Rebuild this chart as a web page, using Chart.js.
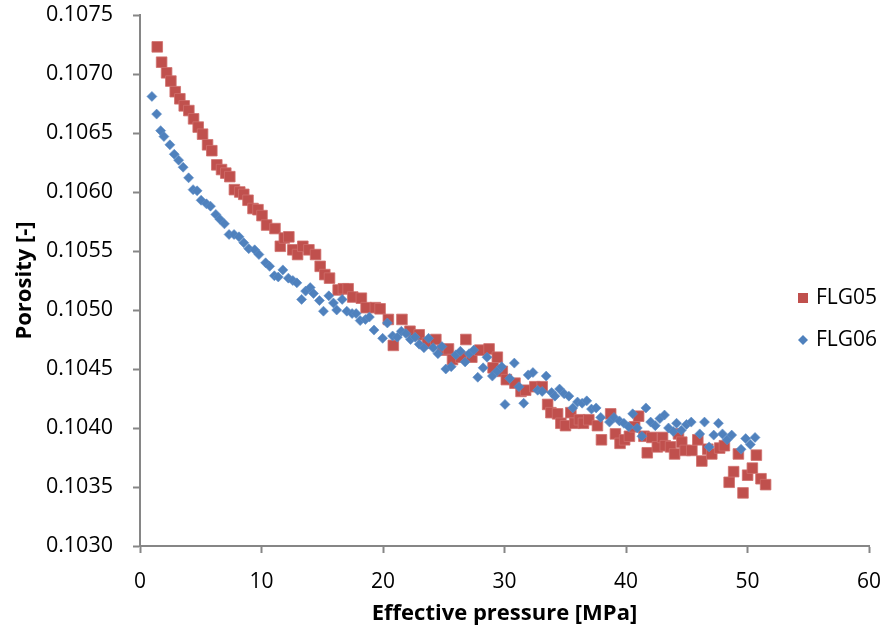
<!DOCTYPE html>
<html>
<head>
<meta charset="utf-8">
<title>Porosity vs effective pressure</title>
<script src="https://cdn.jsdelivr.net/npm/chart.js@4.4.1/dist/chart.umd.min.js"></script>
<style>
  body { margin: 0; background: #fff; }
  #chart { display: block; }
</style>
</head>
<body>
<canvas id="chart" width="886" height="637"></canvas>
<script>
// FLG05 - effective pressure [MPa] and porosity [-]
const pressureFLG05 = [1.42,1.78,2.19,2.54,2.90,3.28,3.64,4.02,4.41,4.79,5.15,5.56,5.91,6.32,6.71,7.06,7.39,7.77,8.21,8.54,8.89,9.30,9.71,10.04,10.42,11.11,11.55,11.88,12.25,12.58,12.97,13.40,13.90,14.45,14.83,15.21,15.60,16.31,16.74,17.13,17.51,18.22,18.61,19.37,19.76,20.44,20.85,21.56,22.22,22.98,23.66,24.35,24.90,25.39,25.72,26.41,26.82,27.31,27.97,28.73,29.06,29.41,29.82,30.15,30.86,31.36,31.74,32.50,33.10,33.55,33.82,34.37,34.64,35.02,35.46,35.79,36.17,36.50,36.94,37.65,37.98,38.74,39.13,39.51,39.89,40.28,40.71,41.04,41.48,41.75,42.13,42.58,43.01,43.23,43.67,44.00,44.32,44.59,44.87,45.42,45.91,46.24,46.73,47.06,47.71,48.10,48.49,48.86,49.25,49.63,50.01,50.40,50.73,51.11,51.49];
const porosityFLG05 = [0.10723,0.10710,0.10701,0.10694,0.10685,0.10679,0.10673,0.10669,0.10662,0.10655,0.10649,0.10640,0.10635,0.10623,0.10619,0.10616,0.10613,0.10602,0.10600,0.10598,0.10593,0.10586,0.10585,0.10580,0.10572,0.10569,0.10554,0.10561,0.10562,0.10551,0.10547,0.10554,0.10551,0.10547,0.10537,0.10530,0.10527,0.10517,0.10518,0.10518,0.10511,0.10510,0.10502,0.10502,0.10501,0.10492,0.10470,0.10492,0.10482,0.10479,0.10472,0.10475,0.10466,0.10467,0.10458,0.10460,0.10475,0.10460,0.10466,0.10467,0.10451,0.10460,0.10448,0.10441,0.10438,0.10431,0.10432,0.10435,0.10435,0.10420,0.10413,0.10412,0.10404,0.10402,0.10413,0.10404,0.10407,0.10404,0.10407,0.10402,0.10390,0.10412,0.10395,0.10387,0.10390,0.10393,0.10401,0.10410,0.10393,0.10379,0.10392,0.10384,0.10392,0.10385,0.10384,0.10378,0.10395,0.10388,0.10381,0.10381,0.10390,0.10372,0.10382,0.10378,0.10383,0.10385,0.10354,0.10363,0.10378,0.10345,0.10360,0.10366,0.10377,0.10357,0.10352];

// FLG06
const pressureFLG06 = [0.98,1.37,1.70,1.97,2.46,2.82,3.18,3.55,4.00,4.37,4.70,5.03,5.47,5.80,6.24,6.57,6.95,7.33,7.74,8.15,8.54,8.95,9.44,9.79,10.34,10.67,11.06,11.38,11.76,12.21,12.58,12.91,13.30,13.63,14.01,14.28,14.77,15.10,15.54,15.92,16.19,16.64,17.02,17.46,17.79,18.12,18.55,18.88,19.26,19.97,20.36,20.79,21.18,21.51,21.89,22.27,22.65,22.98,23.37,23.75,24.13,24.52,24.85,25.17,25.61,26.00,26.37,26.76,27.09,27.47,27.80,28.24,28.56,29.00,29.39,29.77,30.04,30.43,30.81,31.19,31.58,31.95,32.34,32.73,33.10,33.43,33.88,34.15,34.53,34.91,35.30,35.62,36.01,36.39,36.77,37.16,37.54,37.92,38.64,39.01,39.46,39.83,40.22,40.55,40.93,41.31,41.64,42.03,42.41,42.79,43.17,43.50,43.89,44.16,44.55,44.98,45.37,46.07,46.46,46.84,47.22,47.61,47.94,48.32,48.70,49.47,49.85,50.23,50.62];
const porosityFLG06 = [0.10681,0.10666,0.10652,0.10647,0.10640,0.10632,0.10627,0.10621,0.10612,0.10602,0.10601,0.10593,0.10590,0.10588,0.10581,0.10577,0.10573,0.10564,0.10564,0.10562,0.10557,0.10552,0.10551,0.10547,0.10540,0.10537,0.10529,0.10528,0.10534,0.10527,0.10525,0.10523,0.10509,0.10516,0.10519,0.10514,0.10508,0.10499,0.10512,0.10506,0.10500,0.10509,0.10499,0.10497,0.10497,0.10491,0.10492,0.10494,0.10483,0.10476,0.10489,0.10478,0.10477,0.10482,0.10480,0.10475,0.10477,0.10471,0.10468,0.10476,0.10468,0.10463,0.10469,0.10450,0.10452,0.10462,0.10465,0.10456,0.10463,0.10466,0.10443,0.10451,0.10460,0.10444,0.10448,0.10452,0.10420,0.10442,0.10455,0.10435,0.10421,0.10445,0.10447,0.10432,0.10431,0.10444,0.10430,0.10427,0.10433,0.10429,0.10427,0.10417,0.10422,0.10421,0.10423,0.10416,0.10417,0.10409,0.10405,0.10409,0.10406,0.10404,0.10401,0.10412,0.10400,0.10393,0.10417,0.10405,0.10402,0.10408,0.10411,0.10400,0.10397,0.10404,0.10398,0.10403,0.10405,0.10395,0.10405,0.10384,0.10394,0.10404,0.10395,0.10390,0.10394,0.10382,0.10391,0.10386,0.10392];

const seriesNames = ["FLG05", "FLG06"];
const xTicks = [0, 10, 20, 30, 40, 50, 60];
const yTicks = [0.1030, 0.1035, 0.1040, 0.1045, 0.1050, 0.1055, 0.1060, 0.1065, 0.1070, 0.1075];

const red = "#C0504D";
const blue = "#4F81BD";
const axisGrey = "#868686";
const fontName = "'Open Sans', 'Liberation Sans', sans-serif";

function toPoints(xs, ys) {
  return xs.map((x, i) => ({ x: x, y: ys[i] }));
}

// legend sits inside the plot on the right, like the Excel original
const sideLegend = {
  id: "sideLegend",
  afterDraw(chart) {
    const c = chart.ctx;
    const rows = [
      { y: 298, style: "rect", i: 0 },
      { y: 340, style: "rectRot", i: 1 }
    ];
    c.save();
    c.font = "21px " + fontName;
    c.textBaseline = "middle";
    c.fillStyle = "#000";
    rows.forEach(r => {
      const ds = chart.data.datasets[r.i];
      c.save();
      c.fillStyle = ds.backgroundColor;
      c.beginPath();
      if (r.style === "rect") {
        c.rect(798, r.y - 5, 10, 10);
      } else {
        c.moveTo(803, r.y - 5);
        c.lineTo(808, r.y);
        c.lineTo(803, r.y + 5);
        c.lineTo(798, r.y);
        c.closePath();
      }
      c.fill();
      c.restore();
      c.fillText(ds.label, 816, r.y);
    });
    c.restore();
  }
};

const ctx = document.getElementById("chart");

let mainChart = new Chart(ctx, {
  type: "scatter",
  data: {
    datasets: [
      {
        label: seriesNames[0],
        data: toPoints(pressureFLG05, porosityFLG05),
        pointStyle: "rect",
        pointRadius: 7.5,
        backgroundColor: red,
        borderColor: "#CF6F6C",
        borderWidth: 0.8,
        order: 1
      },
      {
        label: seriesNames[1],
        data: toPoints(pressureFLG06, porosityFLG06),
        pointStyle: "rectRot",
        pointRadius: 5,
        backgroundColor: blue,
        borderColor: "#5F8FC8",
        borderWidth: 0.6,
        order: 0
      }
    ]
  },
  options: {
    responsive: false,
    animation: false,
    events: [],
    layout: {
      padding: { left: 0, top: 15, right: 17, bottom: 0 }
    },
    plugins: {
      legend: { display: false },
      tooltip: { enabled: false }
    },
    scales: {
      x: {
        type: "linear",
        min: xTicks[0],
        max: xTicks[xTicks.length - 1],
        afterBuildTicks: axis => { axis.ticks = xTicks.map(v => ({ value: v })); },
        afterFit: axis => {
          axis.height = 91;
          axis.paddingLeft = 0;
          axis.paddingRight = 0;
        },
        border: { display: true, color: axisGrey, width: 2 },
        grid: {
          drawOnChartArea: false,
          drawTicks: true,
          tickLength: 7,
          tickColor: axisGrey,
          tickWidth: 2
        },
        ticks: {
          color: "#000",
          padding: 16,
          maxRotation: 0,
          font: { family: fontName, size: 21 }
        },
        title: {
          display: true,
          text: "Effective pressure [MPa]",
          color: "#000",
          padding: { top: 0, bottom: 10 },
          font: { family: fontName, size: 22, weight: "bold" }
        }
      },
      y: {
        type: "linear",
        min: yTicks[0],
        max: yTicks[yTicks.length - 1],
        afterBuildTicks: axis => { axis.ticks = yTicks.map(v => ({ value: v })); },
        afterFit: axis => {
          axis.width = 140;
          axis.paddingTop = 0;
          axis.paddingBottom = 0;
        },
        border: { display: true, color: axisGrey, width: 2 },
        grid: {
          drawOnChartArea: false,
          drawTicks: true,
          tickLength: 7,
          tickColor: axisGrey,
          tickWidth: 2
        },
        ticks: {
          color: "#000",
          padding: 20,
          font: { family: fontName, size: 21.5 },
          callback: v => v.toFixed(4)
        },
        title: {
          display: true,
          text: "Porosity [-]",
          color: "#000",
          padding: { top: 12, bottom: 0 },
          font: { family: fontName, size: 22, weight: "bold" }
        }
      }
    }
  },
  plugins: [sideLegend]
});
</script>
</body>
</html>
